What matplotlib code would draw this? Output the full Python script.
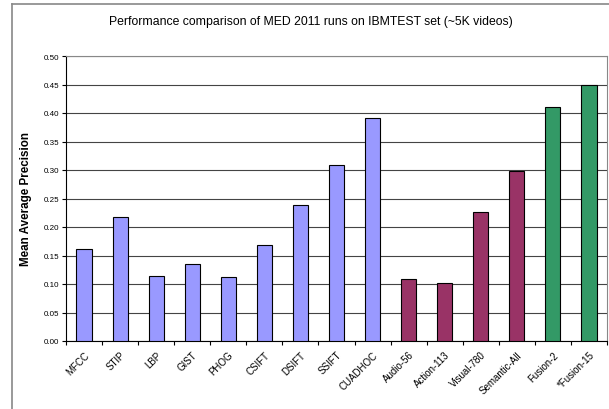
import matplotlib
matplotlib.use("Agg")
import matplotlib.pyplot as plt
from matplotlib.lines import Line2D
import numpy as np

plt.rcParams['font.family'] = ['Liberation Sans', 'DejaVu Sans']

runs = ["MFCC", "STIP", "LBP", "GIST", "PHOG", "CSIFT", "DSIFT", "SSIFT", "CUADHOC",
        "Audio-56", "Action-113", "Visual-780", "Semantic-All", "Fusion-2", "*Fusion-15"]
map_vals = [0.162, 0.218, 0.114, 0.135, 0.112, 0.168, 0.238, 0.309, 0.391,
            0.109, 0.101, 0.227, 0.299, 0.411, 0.449]
groups = ["low"] * 9 + ["semantic"] * 4 + ["fusion"] * 2
group_colors = {"low": "#9999FF", "semantic": "#993366", "fusion": "#339966"}

fig = plt.figure(figsize=(6.09, 4.10), dpi=100)
ax = fig.add_axes([66 / 609, 68 / 410, 541 / 609, 285 / 410])

x = np.arange(len(runs))
ax.bar(x, map_vals, width=0.42, color=[group_colors[g] for g in groups],
       edgecolor="black", linewidth=0.8, zorder=3)

ax.set_xlim(-0.5, len(runs) - 0.5)
ax.set_ylim(0, 0.5)
ax.set_yticks(np.arange(0, 0.501, 0.05))
ax.set_yticklabels(["%.2f" % v for v in np.arange(0, 0.501, 0.05)], fontsize=5.8)
ax.yaxis.grid(True, color="#444444", linewidth=0.8, zorder=0)

# category labels between boundary ticks
ax.set_xticks(np.arange(-0.5, len(runs) - 0.4, 1.0))
ax.set_xticklabels([])
ax.set_xticks(x, minor=True)
ax.set_xticklabels(runs, minor=True, rotation=45, ha="right", va="top",
                   rotation_mode="anchor", fontsize=7)
ax.tick_params(axis="x", which="minor", length=0, pad=6)
ax.tick_params(axis="x", which="major", length=3, direction="out")
ax.tick_params(axis="y", length=3, direction="out", pad=2)

for s in ["top", "right"]:
    ax.spines[s].set_color("#888888")
for s in ["left", "bottom"]:
    ax.spines[s].set_color("black")

ax.set_ylabel("Mean Average Precision", fontsize=8.4, fontweight="bold", labelpad=8)
fig.text(311 / 609, 1 - 22 / 410, "Performance comparison of MED 2011 runs on IBMTEST set (~5K videos)",
         ha="center", va="center", fontsize=8.8)

# outer chart frame
fig.add_artist(Line2D([12 / 609, 1], [1 - 5 / 410, 1 - 5 / 410], color="#888888", linewidth=1.2))
fig.add_artist(Line2D([12 / 609, 12 / 609], [0, 1 - 5 / 410], color="#888888", linewidth=1.2))

fig.savefig("out.png", dpi=100)
